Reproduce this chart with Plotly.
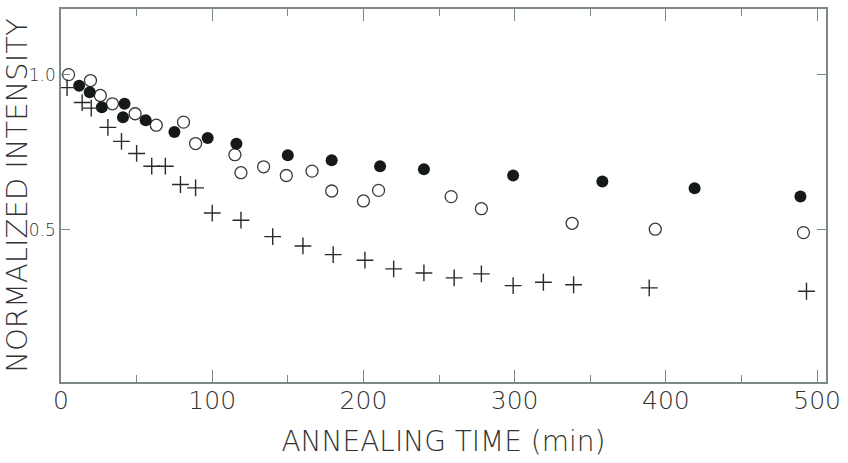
import plotly.graph_objects as go

# Filled circles
filled_x = [12, 19, 27, 41, 42, 56, 75, 97, 116, 150, 179, 211, 240, 299, 358, 419, 489]
filled_y = [0.964, 0.943, 0.895, 0.863, 0.906, 0.853, 0.815, 0.796, 0.777, 0.740, 0.724,
            0.705, 0.695, 0.675, 0.656, 0.634, 0.607]

# Open circles
open_x = [5, 19.5, 26, 34, 49, 63, 81, 89, 115, 119, 134, 149, 166, 179, 200, 210, 258,
          278, 338, 393, 491]
open_y = [1.0, 0.981, 0.933, 0.906, 0.874, 0.837, 0.847, 0.778, 0.742, 0.684, 0.703,
          0.675, 0.689, 0.625, 0.593, 0.627, 0.607, 0.568, 0.521, 0.502, 0.491]

# Crosses
cross_x = [4, 14, 20, 31, 40, 50, 60, 69, 79, 89, 100, 119, 140, 160, 180, 201, 220, 240,
           260, 278, 299, 319, 339, 389, 493]
cross_y = [0.958, 0.910, 0.892, 0.830, 0.785, 0.746, 0.705, 0.705, 0.646, 0.635, 0.554,
           0.531, 0.478, 0.448, 0.420, 0.402, 0.374, 0.361, 0.345, 0.358, 0.320, 0.331,
           0.323, 0.313, 0.302]

x_ticks = [0, 100, 200, 300, 400, 500]
x_ticktext = ["0", "100", "200", "300", "400", "500"]
y_ticks = [0.5, 1.0]
y_ticktext = ["0.5", "1.0"]

FONT = "DejaVu Sans"
AXC = "#7d8a84"
TXT = "#333333"

fig = go.Figure()
fig.add_trace(go.Scatter(x=open_x, y=open_y, mode="markers",
                         marker=dict(symbol="circle-open", size=12, color="#3a3a3a",
                                     line=dict(width=1.3, color="#3a3a3a"))))
fig.add_trace(go.Scatter(x=filled_x, y=filled_y, mode="markers",
                         marker=dict(symbol="circle", size=12, color="#151a18",
                                     line=dict(width=0))))
fig.add_trace(go.Scatter(x=cross_x, y=cross_y, mode="markers",
                         marker=dict(symbol="cross-thin-open", size=12, color="#2a2a2a",
                                     line=dict(width=1.4, color="#2a2a2a"))))

fig.update_layout(
    width=848, height=463,
    margin=dict(l=61, r=16, t=7, b=81),
    paper_bgcolor="white", plot_bgcolor="white",
    showlegend=False,
    font=dict(family=FONT, color=TXT, weight=200),
)
fig.update_xaxes(
    range=[0, 505.9], showgrid=False, zeroline=False,
    showline=True, linecolor=AXC, linewidth=1.5, mirror="ticks",
    ticks="inside", ticklen=12, tickwidth=1.2, tickcolor=AXC,
    tickvals=x_ticks, ticktext=x_ticktext, ticklabelstandoff=-5,
    tickfont=dict(size=25, color=TXT, family=FONT, weight=200),
    minor=dict(ticks="inside", dtick=50, tick0=0, ticklen=7, tickwidth=1.2, tickcolor=AXC),
    title=dict(text="ANNEALING TIME (min)",
               font=dict(size=28, color=TXT, family=FONT, weight=200),
               standoff=18),
)
fig.update_yaxes(
    range=[0.0096, 1.2115], showgrid=False, zeroline=False,
    showline=True, linecolor=AXC, linewidth=1.5, mirror="ticks",
    ticks="inside", ticklen=9, tickwidth=1.2, tickcolor=AXC,
    tickvals=y_ticks, ticktext=y_ticktext,
    tickfont=dict(size=17, color=TXT, family=FONT, weight=200),
    title=dict(text="NORMALIZED INTENSITY",
               font=dict(size=29, color=TXT, family=FONT, weight=200),
               standoff=2),
)

fig.write_html("out.html")
